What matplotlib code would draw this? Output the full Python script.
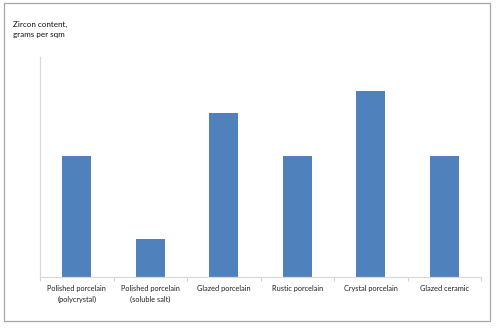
import matplotlib.pyplot as plt
import matplotlib.patches as mpatches
import numpy as np

plt.rcParams['font.family'] = ['Lato', 'DejaVu Sans']

# data (no scale shown, relative units)
categories = ['Polished porcelain\n(polycrystal)', 'Polished porcelain\n(soluble salt)',
              'Glazed porcelain', 'Rustic porcelain', 'Crystal porcelain', 'Glazed ceramic']
values = [5.5, 1.75, 7.45, 5.5, 8.45, 5.5]

fig = plt.figure(figsize=(5.0, 3.28), dpi=100)
W, H = 500, 328

# outer chart border
fig.patches.append(mpatches.Rectangle((4 / W, 1 - 321 / H), 486 / W, 318 / H,
                                      transform=fig.transFigure, fill=False,
                                      edgecolor='#a6a6a6', linewidth=0.9))

ax = fig.add_axes([40 / W, 1 - 277 / H, 441 / W, 220 / H])
x = np.arange(len(categories))
ax.bar(x, values, width=0.4, color='#4f81bd')

ax.set_xlim(-0.5, len(categories) - 0.5)
ax.set_ylim(0, 10)
ax.set_yticks([])
ax.set_xticks(x)
ax.set_xticklabels(categories, fontsize=5.3, color='#222222', linespacing=1.5)
ax.tick_params(axis='x', length=0, pad=6)
# minor ticks at category boundaries
ax.set_xticks(np.arange(-0.5, len(categories), 1.0), minor=True)
ax.tick_params(axis='x', which='minor', length=3, color='#d0d0d0', width=0.8)

for s in ['top', 'right']:
    ax.spines[s].set_visible(False)
ax.spines['left'].set_color('#d9d9d9')
ax.spines['bottom'].set_color('#d9d9d9')
ax.spines['left'].set_linewidth(0.9)
ax.spines['bottom'].set_linewidth(0.9)

fig.text(13 / W, 1 - 21 / H, 'Zircon content,\ngrams per sqm', fontsize=5.8,
         va='top', ha='left', color='#111111', linespacing=1.5)

fig.savefig('out.png', dpi=100, facecolor='white')
